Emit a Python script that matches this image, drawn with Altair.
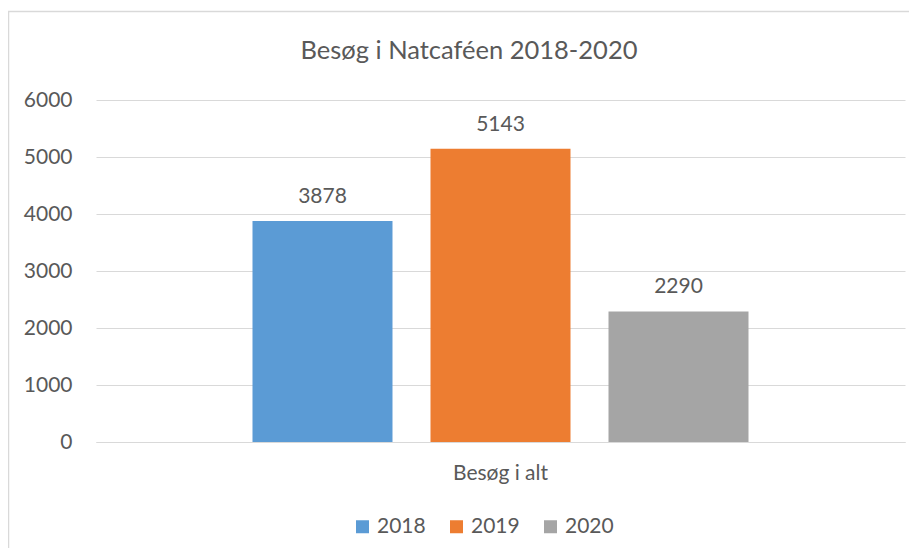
import altair as alt
import pandas as pd

# ---- data ----
categories = ["Besøg i alt"]
years = ["2018", "2019", "2020"]
values = [3878, 5143, 2290]
colors = ["#5B9BD5", "#ED7D31", "#A5A5A5"]
y_ticks = [0, 1000, 2000, 3000, 4000, 5000, 6000]
title_text = ["Besøg i Natcaféen 2018-2020"]

df = pd.DataFrame({"kategori": categories * len(years), "år": years, "besøg": values})
title_df = pd.DataFrame({"t": title_text})
frame_df = pd.DataFrame({"f": [0]})

FONT = "Lato"
TXT = "#595959"
GRID = "#d9d9d9"
W, H = 809, 342

x_enc = alt.X(
    "kategori:N",
    title=None,
    scale=alt.Scale(paddingInner=0, paddingOuter=0.3155),
    axis=alt.Axis(
        labelAngle=0, ticks=False, domainColor=GRID, domainWidth=1,
        labelFont=FONT, labelFontSize=21, labelColor=TXT, labelPadding=20,
    ),
)
xo_enc = alt.XOffset("år:N", scale=alt.Scale(domain=years, paddingInner=0.2135, paddingOuter=0))
y_enc = alt.Y(
    "besøg:Q",
    title=None,
    scale=alt.Scale(domain=[0, 6000], nice=False),
    axis=alt.Axis(
        values=y_ticks, format="d", domain=False, ticks=False, grid=True, gridColor=GRID, gridWidth=1,
        labelFont=FONT, labelFontSize=21, labelColor=TXT, labelPadding=24,
    ),
)
color_enc = alt.Color(
    "år:N",
    title=None,
    scale=alt.Scale(domain=years, range=colors),
    legend=alt.Legend(
        orient="none", legendX=256, legendY=416, direction="horizontal",
        symbolType="square", symbolSize=169, symbolStrokeWidth=0, symbolOpacity=1,
        labelFont=FONT, labelFontSize=21, labelColor=TXT, labelOffset=4,
        columnPadding=20,
    ),
)

bars = alt.Chart(df).mark_bar().encode(x=x_enc, xOffset=xo_enc, y=y_enc, color=color_enc)

labels = alt.Chart(df).mark_text(
    font=FONT, fontSize=21, color=TXT, baseline="alphabetic", dy=-18
).encode(x=x_enc, xOffset=xo_enc, y=y_enc, text=alt.Text("besøg:Q", format="d"))

frame = alt.Chart(frame_df).mark_rect(filled=False, stroke=GRID, strokeWidth=1.5).encode(
    x=alt.value(-87.5), x2=alt.value(W + 60), y=alt.value(-88.5), y2=alt.value(H + 200)
)

title = alt.Chart(title_df).mark_text(
    font=FONT, fontSize=25.5, color=TXT, baseline="alphabetic", align="center"
).encode(text="t:N", x=alt.value(373), y=alt.value(-41))

chart = (
    alt.layer(frame, bars, labels, title)
    .properties(
        width=W, height=H, autosize="none",
        padding={"left": 88, "top": 92, "right": 4, "bottom": 106},
    )
    .configure_view(strokeWidth=0)
)

chart.save("out.html", embed_options={"renderer": "svg", "actions": False})
